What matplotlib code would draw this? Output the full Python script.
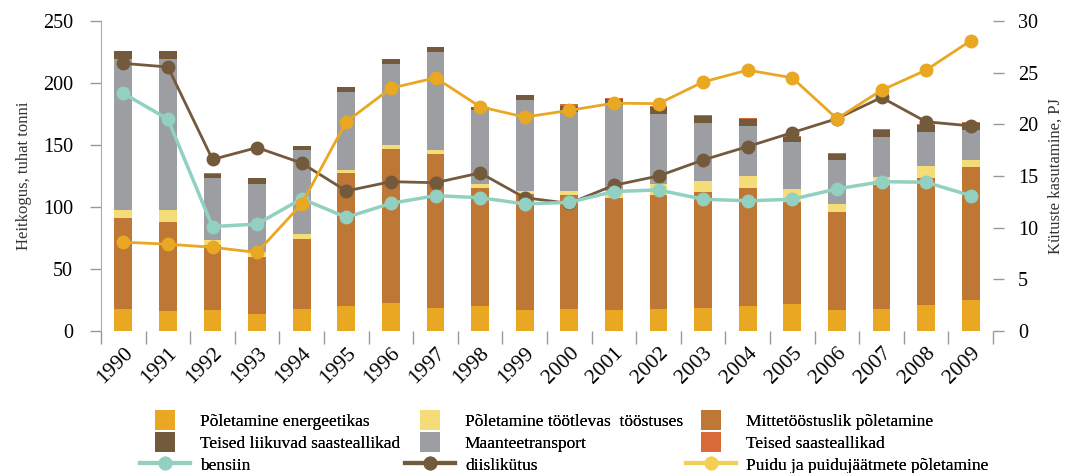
import matplotlib
matplotlib.use("Agg")
import matplotlib.pyplot as plt
from matplotlib.patches import Patch, Rectangle
from matplotlib.lines import Line2D
from matplotlib.legend_handler import HandlerPatch
import numpy as np

plt.rcParams['font.family'] = ['Liberation Serif', 'DejaVu Serif']

years = [str(y) for y in range(1990, 2010)]

# Stacked bars (thousand tonnes)
energeetika = [17.7, 16.1, 16.9, 13.7, 17.7, 20.2, 22.6, 18.5, 20.2, 16.9,
               17.7, 16.9, 17.7, 18.5, 20.2, 21.8, 16.9, 17.7, 21.0, 25.0]
mittetoostuslik = [73.4, 71.8, 52.5, 46.0, 56.5, 107.2, 124.2, 124.2, 95.1, 93.6,
                   92.0, 90.4, 92.0, 93.6, 95.1, 82.2, 79.1, 100.0, 102.4, 107.3]
toostus = [6.5, 9.7, 4.0, 4.0, 4.0, 2.4, 3.2, 3.3, 3.2, 2.4,
           3.2, 5.6, 8.8, 8.9, 9.7, 10.5, 6.4, 6.5, 9.7, 5.6]
maantee = [121.8, 121.8, 50.0, 55.1, 67.8, 62.9, 65.6, 79.0, 59.7, 73.4,
           63.7, 69.4, 56.5, 46.7, 40.3, 37.9, 35.5, 32.3, 27.4, 24.2]
teised_liikuvad = [6.4, 6.4, 3.5, 4.6, 3.2, 4.1, 3.8, 4.0, 2.4, 4.0,
                   4.9, 4.8, 5.6, 5.7, 5.7, 4.1, 4.8, 5.6, 5.6, 5.6]
teised_saaste = [0.0, 0.0, 0.5, 0.0, 0.0, 0.0, 0.0, 0.0, 0.3, 0.0,
                 1.6, 0.8, 0.9, 0.8, 0.8, 0.8, 0.8, 0.8, 0.8, 0.8]

# Lines (PJ)
bensiin = [23.0, 20.5, 10.1, 10.35, 12.8, 11.0, 12.35, 13.1, 12.9, 12.3,
           12.45, 13.5, 13.65, 12.75, 12.6, 12.75, 13.75, 14.45, 14.4, 13.1]
diisel = [25.9, 25.55, 16.6, 17.75, 16.25, 13.55, 14.45, 14.35, 15.3, 12.9,
          12.35, 14.1, 15.0, 16.55, 17.85, 19.2, 20.55, 22.6, 20.25, 19.85]
puit = [8.6, 8.4, 8.1, 7.6, 12.3, 20.25, 23.5, 24.5, 21.7, 20.7,
        21.35, 22.05, 22.0, 24.1, 25.25, 24.5, 20.55, 23.3, 25.25, 28.1]

bar_series = [
    ("Põletamine energeetikas", energeetika, "#E9A722"),
    ("Mittetööstuslik põletamine", mittetoostuslik, "#BE7735"),
    ("Põletamine töötlevas  tööstuses", toostus, "#F4DC78"),
    ("Maanteetransport", maantee, "#9D9EA1"),
    ("Teised liikuvad saasteallikad", teised_liikuvad, "#745A3D"),
    ("Teised saasteallikad", teised_saaste, "#D96B3A"),
]

W, H = 1067, 473
fig = plt.figure(figsize=(W / 100, H / 100), dpi=100)
ax = fig.add_axes([101 / W, 1 - 331 / H, (993 - 101) / W, (331 - 21) / H])
x = np.arange(len(years))
bottom = np.zeros(len(years))
handles = {}
for name, vals, col in bar_series:
    ax.bar(x, vals, width=0.40, bottom=bottom, color=col, linewidth=0)
    bottom += np.array(vals)
    handles[name] = Patch(facecolor=col, edgecolor='none')

ax.set_xlim(-0.5, len(years) - 0.5)
ax.set_ylim(0, 250)
ax.set_yticks([0, 50, 100, 150, 200, 250])
ax.set_xticks(x)
ax.set_xticklabels(years, rotation=45, ha='right', va='top', rotation_mode='anchor', fontsize=15.5)
ax.set_xticks(np.arange(-0.5, len(years), 1.0), minor=True)
ax.tick_params(axis='x', which='major', length=0, pad=9)
ax.tick_params(axis='x', which='minor', length=9, color='#999999', width=1)
ax.tick_params(axis='y', length=8, color='#999999', width=1, labelsize=14.5, pad=12)
for s in ['top', 'right', 'bottom']:
    ax.spines[s].set_visible(False)
ax.spines['left'].set_color('#aaaaaa')
ax.set_ylabel("Heitkogus, tuhat tonni", fontsize=12, color='#333333', labelpad=8)

ax2 = ax.twinx()
ax2.set_ylim(0, 30)
ax2.set_yticks([0, 5, 10, 15, 20, 25, 30])
for s in ['top', 'left', 'bottom', 'right']:
    ax2.spines[s].set_visible(False)
ax2.tick_params(axis='y', length=8, color='#999999', width=1, labelsize=14.5, pad=10)
ax2.set_ylabel("Kütuste kasutamine, PJ", fontsize=12, color='#333333', labelpad=7)

ax2.plot(x, diisel, color="#745A3D", lw=2, marker='o', ms=9, zorder=3)
ax2.plot(x, bensiin, color="#92D0C2", lw=2.5, marker='o', ms=9, zorder=4)
ax2.plot(x, puit, color="#E9A722", lw=2, marker='o', ms=9, zorder=5)

h_b = Line2D([], [], color="#92D0C2", lw=3, marker='o', ms=9)
h_d = Line2D([], [], color="#745A3D", lw=3, marker='o', ms=9)
h_p = Line2D([], [], color="#F5CF55", lw=3, marker='o', ms=9)


def square(legend, orig_handle, xdescent, ydescent, width, height, fontsize):
    side = 20 * 72 / 100.0
    cx = -xdescent + width / 2
    cy = -ydescent + height / 2
    return Rectangle((cx - side / 2, cy - side / 2), side, side)


hmap = {Patch: HandlerPatch(patch_func=square)}

columns = [
    (140, [(handles["Põletamine energeetikas"], "Põletamine energeetikas"),
           (handles["Teised liikuvad saasteallikad"], "Teised liikuvad saasteallikad"),
           (h_b, "bensiin")]),
    (405, [(handles["Põletamine töötlevas  tööstuses"], "Põletamine töötlevas  tööstuses"),
           (handles["Maanteetransport"], "Maanteetransport"),
           (h_d, "diislikütus")]),
    (686, [(handles["Mittetööstuslik põletamine"], "Mittetööstuslik põletamine"),
           (handles["Teised saasteallikad"], "Teised saasteallikad"),
           (h_p, "Puidu ja puidujäätmete põletamine")]),
]
for xpix, items in columns:
    leg = fig.legend([h for h, _ in items], [l for _, l in items], loc='upper left',
                     bbox_to_anchor=(xpix / W, 1 - 411 / H), frameon=False, fontsize=12.5,
                     handlelength=2.9, handleheight=1.2, labelspacing=0.2,
                     handletextpad=0.55, borderpad=0, borderaxespad=0, handler_map=hmap)
    fig.add_artist(leg)

fig.savefig("out.png", dpi=100)
